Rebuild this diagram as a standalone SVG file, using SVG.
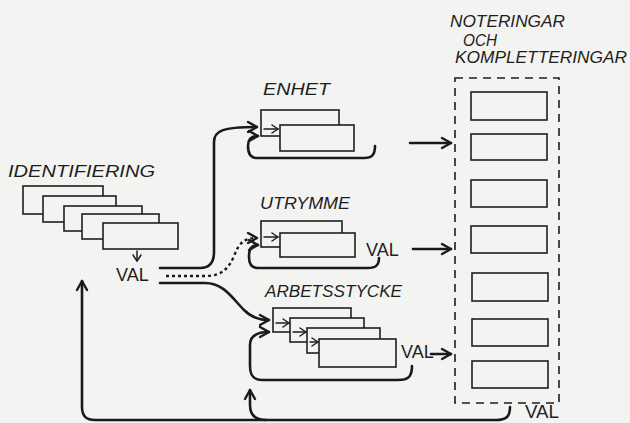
<svg xmlns="http://www.w3.org/2000/svg" width="630" height="423" viewBox="0 0 630 423">
<defs>
<style>
.bg{fill:#f3f3f1}
.card{fill:#f3f3f1;stroke:#1e1e1e;stroke-width:1.6}
.ln{fill:none;stroke:#1a1a1a;stroke-width:2.6;stroke-linecap:round;stroke-linejoin:round}
.thin{fill:none;stroke:#1e1e1e;stroke-width:1.5;stroke-linecap:round}
.dot{fill:none;stroke:#1a1a1a;stroke-width:2.4;stroke-dasharray:3 3}
.dash{fill:none;stroke:#1e1e1e;stroke-width:1.6;stroke-dasharray:8 6}
.hand{font-family:"Liberation Sans",Arial,sans-serif;font-style:italic;font-size:16px;fill:#1e1e1e}
.val{font-family:"Liberation Sans",Arial,sans-serif;font-size:18px;fill:#1e1e1e}
</style>
<marker id="ah" markerUnits="userSpaceOnUse" viewBox="-11 -7 13 14" refX="0" refY="0" markerWidth="13" markerHeight="14" orient="auto">
<path d="M-9,-5 L0,0 L-9,5" fill="none" stroke="#1a1a1a" stroke-width="2.4" stroke-linecap="round" stroke-linejoin="round"/>
</marker>
<marker id="as" markerUnits="userSpaceOnUse" viewBox="-8 -5 10 10" refX="0" refY="0" markerWidth="10" markerHeight="10" orient="auto">
<path d="M-6,-4 L0,0 L-6,4" fill="none" stroke="#1e1e1e" stroke-width="1.5" stroke-linecap="round" stroke-linejoin="round"/>
</marker>
</defs>
<rect class="bg" x="0" y="0" width="630" height="423"/>

<g id="identifiering">
<text class="hand" x="8" y="177" textLength="147" lengthAdjust="spacingAndGlyphs">IDENTIFIERING</text>
<rect class="card" x="23" y="186" width="80" height="28"/>
<rect class="card" x="43" y="196" width="73" height="26"/>
<rect class="card" x="64" y="206" width="78" height="25"/>
<rect class="card" x="82" y="214" width="77" height="25"/>
<rect class="card" x="103" y="223" width="75" height="26"/>
<line class="thin" x1="137" y1="251" x2="137" y2="261" marker-end="url(#as)"/>
<text class="val" x="116" y="281">VAL</text>
</g>

<g id="enhet">
<text class="hand" x="263" y="95" textLength="67" lengthAdjust="spacingAndGlyphs">ENHET</text>
<rect class="card" x="261" y="110" width="78" height="26"/>
<rect class="card" x="280" y="125" width="74" height="26"/>
<line class="thin" x1="264" y1="129" x2="278" y2="129" marker-end="url(#as)"/>
</g>

<g id="utrymme">
<text class="hand" x="260" y="209" textLength="90" lengthAdjust="spacingAndGlyphs">UTRYMME</text>
<rect class="card" x="261" y="221" width="81" height="26"/>
<rect class="card" x="280" y="233" width="75" height="24"/>
<line class="thin" x1="264" y1="237" x2="278" y2="237" marker-end="url(#as)"/>
<text class="val" x="366" y="256">VAL</text>
</g>

<g id="arbetsstycke">
<text class="hand" x="265" y="297" textLength="137" lengthAdjust="spacingAndGlyphs">ARBETSSTYCKE</text>
<rect class="card" x="273" y="308" width="78" height="24"/>
<rect class="card" x="290" y="318" width="74" height="24"/>
<rect class="card" x="307" y="328" width="73" height="25"/>
<rect class="card" x="319" y="339" width="77" height="28"/>
<line class="thin" x1="276" y1="323" x2="289" y2="323" marker-end="url(#as)"/>
<line class="thin" x1="293" y1="332" x2="306" y2="332" marker-end="url(#as)"/>
<line class="thin" x1="310" y1="342" x2="318" y2="342" marker-end="url(#as)"/>
<text class="val" x="401" y="358">VAL</text>
</g>

<g id="noteringar">
<text class="hand" x="450" y="27" textLength="115" lengthAdjust="spacingAndGlyphs">NOTERINGAR</text>
<text class="hand" x="463" y="46" textLength="34" lengthAdjust="spacingAndGlyphs">OCH</text>
<text class="hand" x="455" y="63" textLength="172" lengthAdjust="spacingAndGlyphs">KOMPLETTERINGAR</text>
<rect class="dash" x="455" y="78" width="104" height="325"/>
<rect class="card" x="471" y="92" width="76" height="28"/>
<rect class="card" x="471" y="134" width="76" height="26"/>
<rect class="card" x="471" y="180" width="76" height="27"/>
<rect class="card" x="471" y="226" width="76" height="27"/>
<rect class="card" x="472" y="273" width="76" height="28"/>
<rect class="card" x="472" y="319" width="76" height="27"/>
<rect class="card" x="472" y="361" width="76" height="27"/>
<text class="val" x="525" y="418" font-size="16" textLength="34" lengthAdjust="spacingAndGlyphs">VAL</text>
</g>

<g id="connectors">
<path class="ln" d="M160,268 L200,268 C211,268 214,261 214,252 L214,142 C214,131 222,127 257,127" marker-end="url(#ah)"/>
<path class="dot" d="M166,276 L205,276 C222,276 229,268 234,256 C239,243 244,238 257,238" marker-end="url(#ah)"/>
<path class="ln" d="M160,283 L205,283 C224,283 232,298 244,310 C251,317 258,320 269,320" marker-end="url(#ah)"/>
<path class="ln" d="M375,146 C375,155 372,158 364,158 L257,158 C250,158 248,152 248,146 C248,139 251,136 258,136" marker-end="url(#ah)"/>
<path class="ln" d="M379,258 C379,265 376,268 368,268 L258,268 C251,268 249,263 249,257 C249,249 251,245 258,245" marker-end="url(#ah)"/>
<path class="ln" d="M412,366 C412,377 408,380 398,380 L262,380 C253,380 250,375 250,366 L250,345 C250,336 256,332 269,332" marker-end="url(#ah)"/>
<path class="ln" d="M410,143 L451,143" marker-end="url(#ah)"/>
<path class="ln" d="M413,249 L451,249" marker-end="url(#ah)"/>
<path class="ln" d="M431,354 L451,354" marker-end="url(#ah)"/>
<path class="ln" d="M510,407 C510,417 506,420 496,420 L95,420 C86,420 82,416 82,407 L82,281" marker-end="url(#ah)"/>
<path class="ln" d="M266,420 C255,420 250,415 250,405 L250,390" marker-end="url(#ah)"/>
</g>
</svg>
